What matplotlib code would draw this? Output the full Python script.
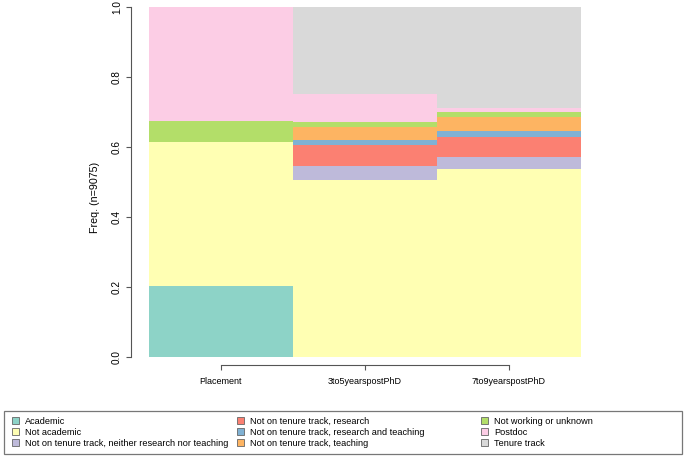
import numpy as np
import matplotlib
matplotlib.use("Agg")
import matplotlib.pyplot as plt
from matplotlib.patches import Patch, Rectangle

plt.rcParams["font.family"] = ["Liberation Sans", "DejaVu Sans"]

# time points on the x axis
timepoints = ["Placement", "3to5yearspostPhD", "7to9yearspostPhD"]

# career status, bottom to top of each stack
statuses = [
    "Academic",
    "Not academic",
    "Not on tenure track, neither research nor teaching",
    "Not on tenure track, research",
    "Not on tenure track, research and teaching",
    "Not on tenure track, teaching",
    "Not working or unknown",
    "Postdoc",
    "Tenure track",
]

# share of each status per time point
academic = [0.204, 0.000, 0.000]
not_academic = [0.411, 0.506, 0.536]
ntt_neither = [0.000, 0.041, 0.035]
ntt_research = [0.000, 0.059, 0.058]
ntt_res_teach = [0.000, 0.014, 0.016]
ntt_teaching = [0.000, 0.037, 0.040]
not_working = [0.059, 0.014, 0.014]
postdoc = [0.326, 0.080, 0.013]
tenure_track = [0.000, 0.249, 0.288]

colors = ["#8DD3C7", "#FFFFB3", "#BEBADA", "#FB8072", "#80B1D3",
          "#FDB462", "#B3DE69", "#FCCDE5", "#D9D9D9"]

shares = [academic, not_academic, ntt_neither, ntt_research, ntt_res_teach,
          ntt_teaching, not_working, postdoc, tenure_track]

W, H = 685, 457
fig = plt.figure(figsize=(W / 100, H / 100), dpi=100)
ax = fig.add_axes([131 / W, 1 - 365 / H, (599 - 131) / W, (365 - 7) / H])

x = np.arange(len(timepoints))
bottom = np.zeros(len(timepoints))
for vals, col in zip(shares, colors):
    vals = np.array(vals)
    ax.bar(x, vals, width=1.0, bottom=bottom, color=col, edgecolor="none")
    bottom += vals

ax.set_xlim(-0.625, 2.625)
ax.set_ylim(-8 / 350, 1.0)

axcol = "#555555"
for s in ["top", "right"]:
    ax.spines[s].set_visible(False)
ax.spines["left"].set_bounds(0, 1)
ax.spines["bottom"].set_bounds(0, 2)
for s in ["left", "bottom"]:
    ax.spines[s].set_color(axcol)
    ax.spines[s].set_linewidth(0.8)

ax.set_xticks(x)
ax.set_xticklabels(timepoints, fontsize=6.5)
ax.set_yticks([0, 0.2, 0.4, 0.6, 0.8, 1.0])
ax.set_yticklabels(["0.0", "0.2", "0.4", "0.6", "0.8", "1.0"], fontsize=7.2,
                   rotation=90, va="center")
ax.tick_params(axis="both", length=3.4, width=0.8, color=axcol)
ax.tick_params(axis="x", pad=5)
ax.tick_params(axis="y", pad=3)

fig.text(95 / W, 1 - 197 / H, "Freq. (n=9075)", rotation=90,
         ha="center", va="center", fontsize=7.7)

# legend: three columns inside one grey box
fig.patches.append(Rectangle((4 / W, 1 - 454 / H), (682 - 4) / W, (454 - 411) / H,
                             transform=fig.transFigure, fill=False,
                             edgecolor="#777777", linewidth=0.9))
col_x = [12, 237, 481]
for c in range(3):
    idx = range(c * 3, c * 3 + 3)
    handles = [Patch(facecolor=colors[i], edgecolor="#666666", linewidth=0.6)
               for i in idx]
    labels = [statuses[i] for i in idx]
    fig.legend(handles, labels, loc="upper left",
               bbox_to_anchor=(col_x[c] / W, 1 - 417 / H),
               frameon=False, fontsize=6.6, borderpad=0, borderaxespad=0,
               handlelength=0.75, handleheight=0.75, handletextpad=0.7,
               labelspacing=0.2)

fig.savefig("out.png", dpi=100)
